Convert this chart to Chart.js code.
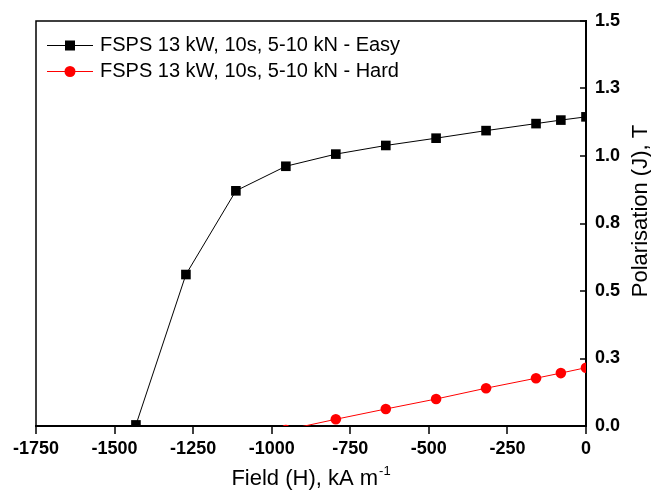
<!DOCTYPE html>
<html><head><meta charset="utf-8">
<script src="https://cdn.jsdelivr.net/npm/chart.js@4/dist/chart.umd.min.js"></script>
<style>html,body{margin:0;padding:0;background:#fff}#wrap{width:651px;height:490px}</style>
</head><body><div id="wrap"><canvas id="c" width="651" height="490"></canvas></div>
<script>
const fieldEasy = [-1432, -1273, -1114, -955, -796, -637, -477, -318, -159, -80, 0];
const polEasy   = [0.004, 0.561, 0.871, 0.962, 1.007, 1.039, 1.066, 1.094, 1.120, 1.133, 1.145];
const fieldHard = [-955, -796, -637, -477, -318, -159, -80, 0];
const polHard   = [-0.015, 0.025, 0.063, 0.100, 0.140, 0.177, 0.196, 0.216];
const seriesNames = ['FSPS 13 kW, 10s, 5-10 kN - Easy', 'FSPS 13 kW, 10s, 5-10 kN - Hard'];
const xTicks = [-1750, -1500, -1250, -1000, -750, -500, -250, 0];
const xTickLabels = ['-1750', '-1500', '-1250', '-1000', '-750', '-500', '-250', '0'];
const yTicks = [0, 0.25, 0.5, 0.75, 1.0, 1.25, 1.5];
const yTickLabels = ['0.0', '0.3', '0.5', '0.8', '1.0', '1.3', '1.5'];
const xTitle = 'Field (H), kA m';
const xTitleSup = '-1';
const yTitle = 'Polarisation (J), T';

const FONT = "'Liberation Sans', Arial, sans-serif";
Chart.defaults.font.family = FONT;
Chart.defaults.color = '#000';

function legendIcon(color, style) {
  const c = document.createElement('canvas');
  c.width = 54; c.height = 14;
  const g = c.getContext('2d');
  g.strokeStyle = color; g.lineWidth = 1;
  g.beginPath(); g.moveTo(8, 7.5); g.lineTo(54, 7.5); g.stroke();
  g.fillStyle = color;
  if (style === 'rect') { g.fillRect(26, 2.5, 10, 10); }
  else { g.beginPath(); g.arc(31, 7.5, 5.5, 0, Math.PI * 2); g.fill(); }
  return c;
}
const icons = [legendIcon('#000', 'rect'), legendIcon('#ff0000', 'circle')];

const framePlugin = {
  id: 'frame',
  afterDraw(chart) {
    const {ctx, chartArea: a, scales} = chart;
    ctx.save();
    ctx.strokeStyle = '#000';
    ctx.lineWidth = 1.5;
    ctx.beginPath();
    ctx.moveTo(a.left, a.bottom); ctx.lineTo(a.left, a.top); ctx.lineTo(a.right, a.top);
    ctx.stroke();
    ctx.lineWidth = 1.5;
    ctx.beginPath();
    xTicks.forEach(v => { const px = Math.round(scales.x.getPixelForValue(v)); ctx.moveTo(px, a.bottom); ctx.lineTo(px, a.bottom + 8); });
    yTicks.forEach(v => { const py = Math.round(scales.y.getPixelForValue(v)); ctx.moveTo(a.right - 6, py); ctx.lineTo(a.right, py); });
    ctx.stroke();
    // x title with superscript
    ctx.fillStyle = '#000';
    ctx.textBaseline = 'alphabetic';
    ctx.textAlign = 'left';
    ctx.font = '22px ' + FONT;
    const w1 = ctx.measureText(xTitle).width;
    ctx.font = '13px ' + FONT;
    const w2 = ctx.measureText(xTitleSup).width;
    const cx = (a.left + a.right) / 2;
    const sx = cx - (w1 + w2 + 1) / 2;
    ctx.font = '22px ' + FONT;
    ctx.fillText(xTitle, sx, 485);
    ctx.font = '13px ' + FONT;
    ctx.fillText(xTitleSup, sx + w1 + 1, 475);
    // y title, reading bottom to top
    ctx.save();
    ctx.translate(641, 211);
    ctx.rotate(-Math.PI / 2);
    ctx.font = '22px ' + FONT;
    ctx.textAlign = 'center';
    ctx.textBaseline = 'middle';
    ctx.fillText(yTitle, 0, 0);
    ctx.restore();
    ctx.restore();
  }
};

new Chart(document.getElementById('c'), {
  type: 'line',
  data: {
    datasets: [
      {
        label: seriesNames[0],
        data: fieldEasy.map((x, i) => ({x, y: polEasy[i]})),
        borderColor: '#000', backgroundColor: '#000', borderWidth: 1,
        pointStyle: 'rect', pointRadius: 6.8, pointBorderWidth: 0, pointHoverRadius: 6.8,
        tension: 0
      },
      {
        label: seriesNames[1],
        data: fieldHard.map((x, i) => ({x, y: polHard[i]})),
        borderColor: '#ff0000', backgroundColor: '#ff0000', borderWidth: 1,
        pointStyle: 'circle', pointRadius: 5.3, pointBorderWidth: 0, pointHoverRadius: 5.3,
        tension: 0
      }
    ]
  },
  options: {
    responsive: false,
    animation: false,
    devicePixelRatio: 1,
    layout: {padding: {left: 36, top: 21, right: 0, bottom: 0}},
    plugins: {
      tooltip: {enabled: false},
      legend: {
        position: 'chartArea',
        align: 'start',
        title: {display: true, text: ' ', font: {size: 1}, padding: {top: 27.8, bottom: 0}},
        labels: {
          font: {size: 20},
          padding: 6,
          usePointStyle: true,
          pointStyleWidth: 48,
          generateLabels: (chart) => chart.data.datasets.map((ds, i) => ({
            text: ds.label, pointStyle: icons[i], datasetIndex: i,
            fillStyle: ds.backgroundColor, strokeStyle: ds.borderColor, lineWidth: 0, hidden: false
          }))
        }
      }
    },
    scales: {
      x: {
        type: 'linear', position: 'bottom', min: -1750, max: 0,
        afterBuildTicks: s => { s.ticks = xTicks.map(v => ({value: v})); },
        afterFit: s => { s.height = 64; },
        grid: {display: false, drawTicks: false},
        border: {display: true, color: '#000', width: 2},
        ticks: {padding: 12, font: {size: 18, weight: 'bold'}, maxRotation: 0, autoSkip: false,
          callback: (v, i) => xTickLabels[i]}
      },
      y: {
        type: 'linear', position: 'right', min: 0, max: 1.5,
        afterBuildTicks: s => { s.ticks = yTicks.map(v => ({value: v})); },
        afterFit: s => { s.width = 65; },
        grid: {display: false, drawTicks: false},
        border: {display: true, color: '#000', width: 2},
        ticks: {padding: 9, font: {size: 18, weight: 'bold'}, autoSkip: false,
          callback: (v, i) => yTickLabels[i]}
      }
    }
  },
  plugins: [framePlugin]
});
</script>
</body></html>
